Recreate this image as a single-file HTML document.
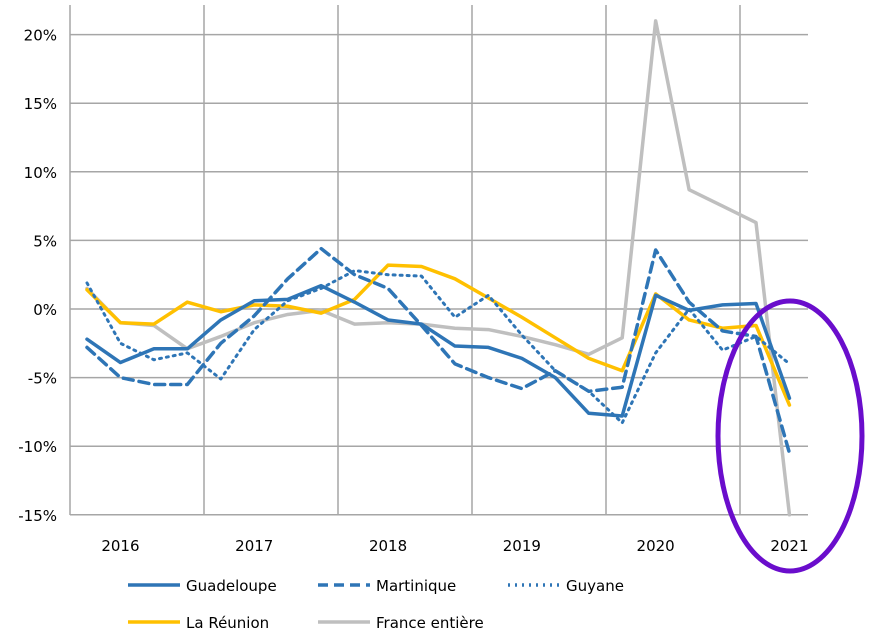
<!DOCTYPE html>
<html><head><meta charset="utf-8"><style>
body{margin:0;background:#fff;font-family:"DejaVu Sans","Liberation Sans",sans-serif}
svg text{font-family:"DejaVu Sans","Liberation Sans",sans-serif;font-size:15px;fill:#000}
</style></head><body>
<svg id="c" width="871" height="639"></svg>
<script>
const years=["2016","2017","2018","2019","2020","2021"];
const yTicks=[20,15,10,5,0,-5,-10,-15];
const guadeloupe=[-2.2,-3.9,-2.9,-2.9,-0.8,0.6,0.7,1.7,0.5,-0.8,-1.1,-2.7,-2.8,-3.6,-5.0,-7.6,-7.8,1.0,-0.1,0.3,0.4,-6.5];
const martinique=[-2.8,-5.0,-5.5,-5.5,-2.5,-0.5,2.2,4.4,2.5,1.5,-1.2,-4.0,-5.0,-5.8,-4.5,-6.0,-5.7,4.3,0.5,-1.6,-2.0,-10.5];
const guyane=[1.9,-2.5,-3.7,-3.2,-5.1,-1.5,0.6,1.5,2.8,2.5,2.4,-0.6,1.0,-1.9,-4.5,-6.0,-8.3,-3.2,0.0,-3.0,-2.0,-4.0];
const reunion=[1.4,-1.0,-1.1,0.5,-0.2,0.3,0.2,-0.3,0.7,3.2,3.1,2.2,0.8,-0.6,-2.1,-3.6,-4.5,1.1,-0.8,-1.4,-1.2,-7.0];
const france=[1.5,-1.0,-1.2,-2.9,-2.0,-1.0,-0.4,-0.1,-1.1,-1.0,-1.1,-1.4,-1.5,-2.0,-2.6,-3.3,-2.1,21.0,8.7,7.5,6.3,-15.0];
const NS="http://www.w3.org/2000/svg",svg=document.getElementById('c');
const X0=70,X1=808,yScale=v=>309-v*13.72,xScale=i=>87+i*33.45;
function mk(t,a,p){const e=document.createElementNS(NS,t);for(const k in a)e.setAttribute(k,a[k]);(p||svg).appendChild(e);return e;}
const grid=mk('g',{});


yTicks.forEach(v=>{
  const l=mk('line',{x1:X0,x2:X1,y1:yScale(v),y2:yScale(v),stroke:'#a6a6a6','stroke-width':1.5},grid);
  
  
  const t=mk('text',{x:57,y:yScale(v)+6,'text-anchor':'end'});
  t.textContent=v+'%';
  
  
});
for(let k=0;k<=5;k++){
  const x=X0+k*134;
  const l=mk('line',{x1:x,x2:x,y1:5,y2:515,stroke:'#a6a6a6','stroke-width':1.5},grid);
  
  
}
years.forEach((y,k)=>{
  const t=mk('text',{x:xScale(k*4+1),y:551,'text-anchor':'middle'});
  t.textContent=y;
  
  
});
const series=[
 {n:'france',d:france,c:'#bfbfbf',dash:''},
 {n:'reunion',d:reunion,c:'#ffc000',dash:''},
 {n:'guyane',d:guyane,c:'#2e75b6',dash:'2 5',w:3},
 {n:'martinique',d:martinique,c:'#2e75b6',dash:'10 6'},
 {n:'guadeloupe',d:guadeloupe,c:'#2e75b6',dash:''}];
series.forEach(s=>{
  const p=mk('polyline',{points:s.d.map((v,i)=>xScale(i)+','+yScale(v)).join(' '),fill:'none',stroke:s.c,'stroke-width':s.w||3.5,'stroke-dasharray':s.dash,'stroke-linecap':'round','stroke-linejoin':'round'});
  
  
});
const el=mk('ellipse',{cx:790,cy:436,rx:72,ry:135,fill:'none',stroke:'#6a0dcc','stroke-width':5});


const leg=[['Guadeloupe','#2e75b6','',128,585],['Martinique','#2e75b6','10 6',318,585],['Guyane','#2e75b6','2 5',508,585],['La Réunion','#ffc000','',128,622],['France entière','#bfbfbf','',318,622]];
leg.forEach(l=>{
  const g=mk('g',{});
  
  
  mk('line',{x1:l[3],x2:l[3]+52,y1:l[4],y2:l[4],stroke:l[1],'stroke-width':3.5,'stroke-dasharray':l[2]},g);
  const t=mk('text',{x:l[3]+58,y:l[4]+6},g);t.textContent=l[0];
});
</script>
</body></html>
